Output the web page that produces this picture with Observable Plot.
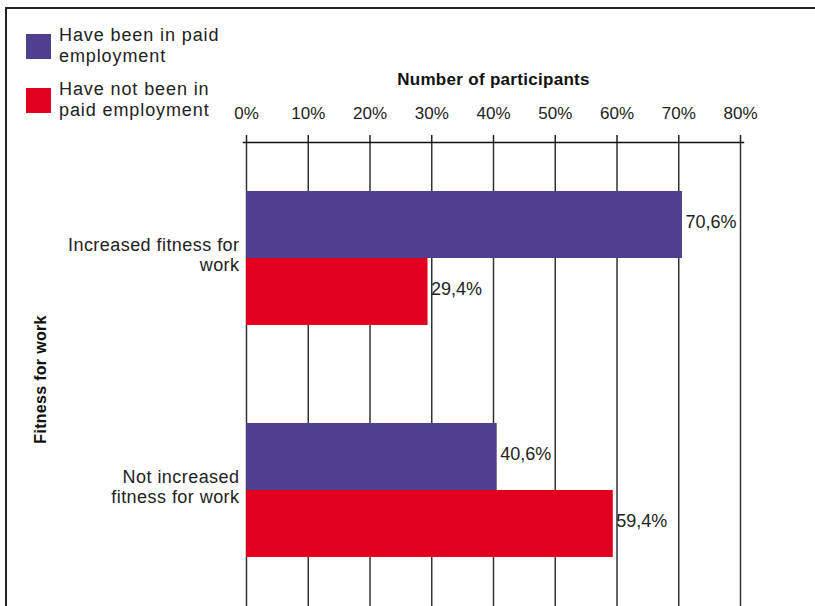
<!DOCTYPE html>
<html>
<head>
<meta charset="utf-8">
<script src="https://cdn.jsdelivr.net/npm/d3@7"></script>
<script src="https://cdn.jsdelivr.net/npm/@observablehq/plot@0.6"></script>
<style>
  html, body { margin: 0; padding: 0; background: #fff; }
  body { width: 815px; height: 606px; position: relative; overflow: hidden; font-family: "Liberation Sans", Arial, sans-serif; color: #222; }
  #frame { position: absolute; left: 5px; top: 7px; width: 820px; height: 620px; border-top: 2px solid #222; border-left: 2px solid #222; }
  #chart { position: absolute; left: 0; top: 0; }
  .leg { position: absolute; left: 26px; font-size: 18px; line-height: 21px; letter-spacing: 0.9px; }
  .leg .sw { position: absolute; left: 0; width: 25px; height: 25px; }
  .leg .lab { position: absolute; left: 33px; white-space: nowrap; }
  .catlab text { letter-spacing: 0.45px; }
  .ttl text { letter-spacing: 0.3px; }
</style>
</head>
<body>
<div id="frame"></div>
<div id="chart"></div>
<div id="legend"></div>
<script>
const categories = ["Increased fitness for work", "Not increased fitness for work"];
const categoryLabels = ["Increased fitness for\nwork", "Not increased\nfitness for work"];
const series = ["Have been in paid employment", "Have not been in paid employment"];
const seriesLabels = [["Have been in paid", "employment"], ["Have not been in", "paid employment"]];
const beenValues = [70.6, 40.6];
const notBeenValues = [29.4, 59.4];
const xTicks = [0, 10, 20, 30, 40, 50, 60, 70, 80];
const xTitle = "Number of participants";
const yTitle = "Fitness for work";
const colors = ["#4f3f8f", "#e2001f"];

const data = categories.flatMap((c, i) => [
  {category: c, series: series[0], value: beenValues[i]},
  {category: c, series: series[1], value: notBeenValues[i]}
]);
const fmt = v => String(v).replace(".", ",") + "%";

const chart = Plot.plot({
  width: 815,
  height: 606,
  marginLeft: 246,
  marginRight: 75,
  marginTop: 142,
  marginBottom: 0,
  style: {background: "transparent", fontFamily: "'Liberation Sans', Arial, sans-serif", fontSize: "16px", color: "#222", overflow: "visible"},
  x: {domain: [0, 80], axis: null},
  y: {domain: series, paddingInner: 0, paddingOuter: 0.73, axis: null},
  fy: {domain: categories, padding: 0, axis: null},
  color: {domain: series, range: colors},
  marks: [
    Plot.ruleX(xTicks, {stroke: "#333", strokeWidth: 1.5}),
    Plot.barX(data, {fy: "category", y: "series", x: "value", fill: "series"}),
    Plot.text(data, {fy: "category", y: "series", x: "value", text: d => fmt(d.value), textAnchor: "start", dx: 3, dy: -3, fill: "#222", fontSize: 18}),
    Plot.axisX({anchor: "top", ticks: xTicks, tickFormat: d => d + "%", tickSize: 8, tickPadding: 16, fontSize: 17, label: null, stroke: "#222", strokeWidth: 1.5, strokeOpacity: 1}),
    Plot.frame({anchor: "top", insetLeft: -3, insetRight: -3, facetAnchor: "top", stroke: "#111", strokeWidth: 1.5}),
    Plot.axisFy({anchor: "left", tickSize: 0, tickPadding: 7, tickFormat: d => categoryLabels[categories.indexOf(d)], fontSize: 18, lineHeight: 1.1, dy: -4, label: null, className: "catlab"}),
    Plot.text([xTitle], {frameAnchor: "top", dy: -70, facetAnchor: "top", fontWeight: "bold", fontSize: 17, fill: "#111", className: "ttl"}),
    Plot.text([yTitle], {frameAnchor: "bottom-left", dx: -206, dy: 5, textAnchor: "middle", lineAnchor: "middle", facetAnchor: "top", rotate: -90, fontWeight: "bold", fontSize: 16, fill: "#111", className: "ttl"})
  ]
});
document.getElementById("chart").appendChild(chart);

const legend = document.getElementById("legend");
series.forEach((s, i) => {
  const item = document.createElement("div");
  item.className = "leg";
  item.style.top = (25 + i * 54) + "px";
  const sw = document.createElement("div");
  sw.className = "sw";
  sw.style.top = "9px";
  sw.style.background = colors[i];
  const lab = document.createElement("div");
  lab.className = "lab";
  lab.innerHTML = seriesLabels[i].join("<br>");
  item.appendChild(sw);
  item.appendChild(lab);
  legend.appendChild(item);
});
</script>
</body>
</html>
